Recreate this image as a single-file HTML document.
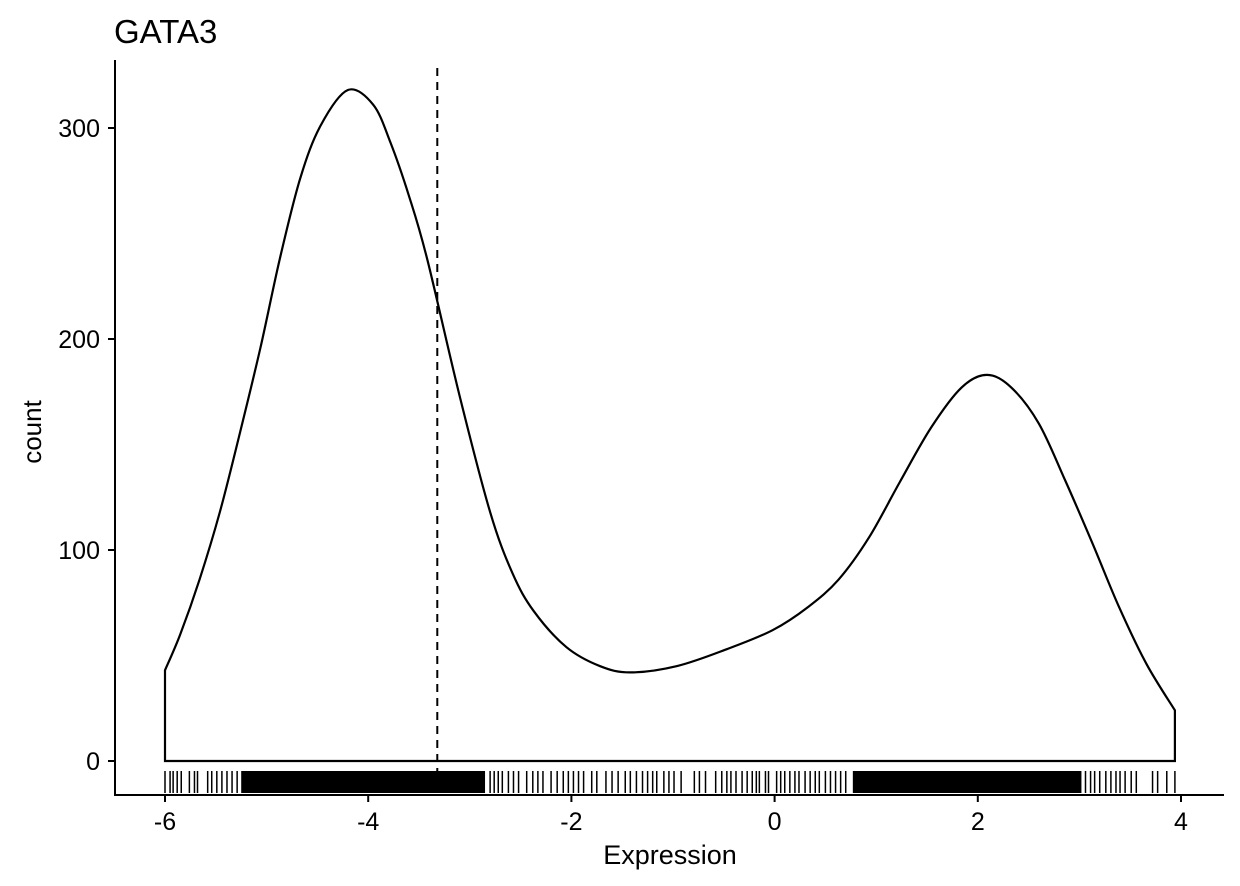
<!DOCTYPE html>
<html><head><meta charset="utf-8"><style>
body{margin:0;background:#fff}
svg{display:block;font-family:"Liberation Sans",sans-serif}
</style></head><body>
<svg id="chart" width="1240" height="886" viewBox="0 0 1240 886">
<text x="114" y="43" font-size="33">GATA3</text>
<g id="plot"></g>
<text transform="translate(41,432) rotate(-90)" text-anchor="middle" font-size="26">count</text>
<text x="670" y="864" text-anchor="middle" font-size="27">Expression</text>
</svg>
<script>
const densX = [-6.0,-5.85,-5.66,-5.46,-5.26,-5.06,-4.87,-4.67,-4.47,-4.2,-3.95,-3.78,-3.6,-3.42,-3.10,-2.80,-2.58,-2.37,-2.05,-1.72,-1.42,-0.96,-0.47,-0.02,0.33,0.63,0.93,1.23,1.54,1.84,2.09,2.33,2.6,2.86,3.13,3.39,3.66,3.94];
const densY = [43,60,86,118,156,196,238,276,301,318,311,293,268,238,173,118,89,71,54,45,42,45,53,62,73,86,106,132,158,177,183,177,160,133,103,73,46,24];
const xTicks = [-6,-4,-2,0,2,4];
const yTicks = [0,100,200,300];
const cutoff = -3.32;
const rugSparse = [-6.0,-5.95,-5.92,-5.88,-5.84,-5.76,-5.71,-5.68,-5.58,-5.54,-5.49,-5.44,-5.39,-5.34,-5.29,
 -2.8,-2.76,-2.72,-2.68,-2.62,-2.57,-2.52,-2.44,-2.38,-2.33,-2.28,-2.2,-2.14,-2.08,-2.03,-1.98,-1.93,-1.88,-1.8,-1.75,-1.66,-1.6,-1.54,-1.47,-1.42,-1.36,-1.3,-1.25,-1.2,-1.16,
 -1.09,-1.04,-0.99,-0.92,-0.79,-0.74,-0.68,-0.58,-0.52,-0.47,-0.43,-0.38,-0.32,-0.27,-0.22,-0.18,-0.15,-0.09,-0.06,
 0.02,0.06,0.1,0.15,0.2,0.24,0.3,0.35,0.4,0.44,0.5,0.55,0.6,0.65,0.7,
 3.06,3.11,3.15,3.2,3.26,3.31,3.36,3.4,3.45,3.51,3.56,3.72,3.77,3.86,3.94];
const rugDenseStart = [-5.25,0.77];
const rugDenseEnd = [-2.85,3.02];

const NS="http://www.w3.org/2000/svg";
const g=document.getElementById('plot');
const sx=v=>165+(v+6)*101.6;
const sy=c=>761-c*2.11;
function mk(t,a){const e=document.createElementNS(NS,t);for(const k in a)e.setAttribute(k,a[k]);g.appendChild(e);return e;}

let ya=mk('line',{x1:115,y1:60,x2:115,y2:795,stroke:'#000','stroke-width':2});


let xa=mk('line',{x1:114,y1:795,x2:1224,y2:795,stroke:'#000','stroke-width':2});


yTicks.forEach(t=>{
  let l=mk('line',{x1:108,x2:115,y1:sy(t),y2:sy(t),stroke:'#000','stroke-width':2});
  
  
  let tx=mk('text',{x:100,y:sy(t)+9,'text-anchor':'end','font-size':25,fill:'#000'});
  tx.textContent=t;
  
  
});
xTicks.forEach(t=>{
  let l=mk('line',{x1:sx(t),x2:sx(t),y1:795,y2:802,stroke:'#000','stroke-width':2});
  
  
  let tx=mk('text',{x:sx(t),y:830,'text-anchor':'middle','font-size':25,fill:'#000'});
  tx.textContent=(t<0?'-'+Math.abs(t):t);
  
  
});

const P=densX.map((v,i)=>[sx(v),sy(densY[i])]);
let d=`M${sx(densX[0])},${sy(0)} L${P[0][0]},${P[0][1]}`;
for(let i=0;i<P.length-1;i++){
  const p0=P[Math.max(0,i-1)],p1=P[i],p2=P[i+1],p3=P[Math.min(P.length-1,i+2)];
  const c1=[p1[0]+(p2[0]-p0[0])/6,p1[1]+(p2[1]-p0[1])/6];
  const c2=[p2[0]-(p3[0]-p1[0])/6,p2[1]-(p3[1]-p1[1])/6];
  d+=` C${c1[0]},${c1[1]} ${c2[0]},${c2[1]} ${p2[0]},${p2[1]}`;
}
d+=` L${sx(densX[densX.length-1])},${sy(0)} Z`;
let curve=mk('path',{d:d,fill:'none',stroke:'#000','stroke-width':2.2});



let cl=mk('line',{x1:sx(cutoff),x2:sx(cutoff),y1:68,y2:771,stroke:'#000','stroke-width':2,'stroke-dasharray':'8,6'});



rugDenseStart.forEach((s,i)=>{
  let r=mk('rect',{x:sx(s),y:771,width:sx(rugDenseEnd[i])-sx(s),height:22,fill:'#000'});
  
  
});
rugSparse.forEach(v=>{
  let l=mk('line',{x1:sx(v),x2:sx(v),y1:771,y2:793,stroke:'#000','stroke-width':1.5});
  
  
});
</script>
</body></html>
